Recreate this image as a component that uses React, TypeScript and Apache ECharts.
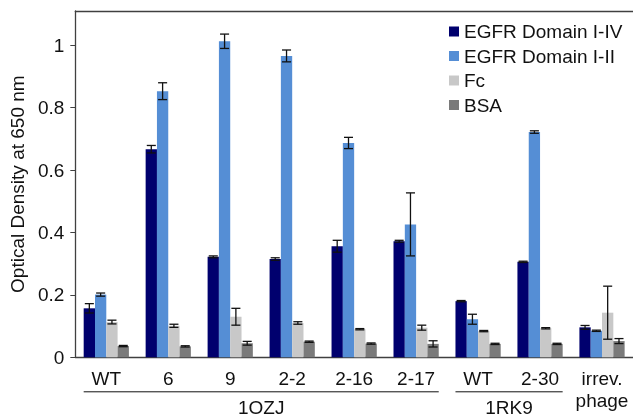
import React, { useEffect, useRef } from 'react';
import * as echarts from 'echarts';

const categories = ['WT', '6', '9', '2-2', '2-16', '2-17', 'WT', '2-30', 'irrev.\nphage'];
const seriesNames = ['EGFR Domain I-IV', 'EGFR Domain I-II', 'Fc', 'BSA'];
const seriesColors = ['#00006e', '#558ed5', '#c8c8c8', '#7a7a7a'];

const domainIV = [0.157, 0.667, 0.322, 0.315, 0.356, 0.372, 0.18, 0.306, 0.096];
const domainIVErr = [0.015, 0.012, 0.003, 0.004, 0.019, 0.003, 0.002, 0.002, 0.006];
const domainII = [0.201, 0.853, 1.013, 0.966, 0.687, 0.426, 0.122, 0.722, 0.085];
const domainIIErr = [0.005, 0.027, 0.023, 0.019, 0.018, 0.101, 0.016, 0.004, 0.002];
const fc = [0.113, 0.101, 0.13, 0.11, 0.09, 0.095, 0.084, 0.093, 0.143];
const fcErr = [0.006, 0.005, 0.027, 0.004, 0.002, 0.008, 0.002, 0.002, 0.085];
const bsa = [0.036, 0.035, 0.045, 0.05, 0.044, 0.043, 0.043, 0.043, 0.052];
const bsaErr = [0.002, 0.002, 0.006, 0.002, 0.002, 0.01, 0.002, 0.002, 0.008];

const yTicks = [0, 0.2, 0.4, 0.6, 0.8, 1];
const groupLabels = ['1OZJ', '1RK9'];
const groupFrom = [0, 6];
const groupTo = [5, 7];

const FONT = '"Liberation Sans", Arial, sans-serif';
const GAP = 0.27;
const AXIS_COLOR = '#404040';

export default function App() {
  const ref = useRef<HTMLDivElement>(null);
  useEffect(() => {
    if (!ref.current) return;
    const chart = echarts.init(ref.current, null, { renderer: 'svg' });
    const values = [domainIV, domainII, fc, bsa];
    const errs = [domainIVErr, domainIIErr, fcErr, bsaErr];

    const barSeries = seriesNames.map((name, i) => ({
      name,
      type: 'bar',
      data: values[i],
      barGap: '0%',
      barCategoryGap: (GAP * 100) + '%',
      itemStyle: { color: seriesColors[i] },
      z: 2,
    }));

    const errSeries = seriesNames.map((name, i) => ({
      name: name + ' err',
      type: 'custom',
      z: 5,
      data: values[i].map((v, k) => [k, v, errs[i][k]]),
      renderItem: (params: any, api: any) => {
        const x = api.value(0);
        const v = api.value(1);
        const e = api.value(2);
        const band = api.size([1, 0])[0];
        const barW = (band * (1 - GAP)) / 4;
        const cx = api.coord([x, v])[0] + (i - 1.5) * barW;
        const top = api.coord([x, v + e])[1];
        const bot = api.coord([x, v - e])[1];
        const hw = barW * 0.4;
        const st = { stroke: '#111', lineWidth: 1.3 };
        return {
          type: 'group',
          children: [
            { type: 'line', shape: { x1: cx, y1: top, x2: cx, y2: bot }, style: st },
            { type: 'line', shape: { x1: cx - hw, y1: top, x2: cx + hw, y2: top }, style: st },
            { type: 'line', shape: { x1: cx - hw, y1: bot, x2: cx + hw, y2: bot }, style: st },
          ],
        };
      },
    }));

    const groupSeries = {
      name: 'groups',
      type: 'custom',
      clip: false,
      z: 5,
      data: groupLabels.map((g, k) => [groupFrom[k], groupTo[k], k]),
      renderItem: (params: any, api: any) => {
        const a = api.value(0);
        const b = api.value(1);
        const k = api.value(2);
        const band = api.size([1, 0])[0];
        const half = (band * (1 - GAP)) / 2;
        const x1 = api.coord([a, 0])[0] - half;
        const x2 = api.coord([b, 0])[0] + half;
        const y0 = api.coord([a, 0])[1];
        const ly = y0 + 34.5;
        return {
          type: 'group',
          children: [
            { type: 'line', shape: { x1, y1: ly, x2, y2: ly }, style: { stroke: '#111', lineWidth: 1 } },
            {
              type: 'text',
              style: {
                text: groupLabels[k],
                x: (x1 + x2) / 2,
                y: ly + 16,
                align: 'center',
                verticalAlign: 'middle',
                fontSize: 19,
                fontFamily: FONT,
                fill: '#111',
              },
            },
          ],
        };
      },
    };

    chart.setOption({
      animation: false,
      grid: { left: 73.5, right: -2.5, top: 11, bottom: 61.7 },
      legend: {
        data: seriesNames,
        orient: 'vertical',
        left: 444,
        top: 17,
        icon: 'rect',
        itemWidth: 10,
        itemHeight: 10,
        itemGap: 5.5,
        textStyle: { fontSize: 19, fontFamily: FONT, color: '#111' },
      },
      xAxis: [
        {
          type: 'category',
          data: categories,
          position: 'bottom',
          axisLine: { lineStyle: { color: AXIS_COLOR, width: 1.3 } },
          axisTick: { show: false },
          axisLabel: { fontSize: 19, fontFamily: FONT, color: '#111', margin: 10, lineHeight: 22, interval: 0 },
        },
        {
          type: 'category',
          data: categories,
          position: 'top',
          axisLine: { lineStyle: { color: AXIS_COLOR, width: 1.3 } },
          axisTick: { show: false },
          axisLabel: { show: false },
        },
      ],
      yAxis: {
        type: 'value',
        min: 0,
        max: 1.11,
        interval: 0.2,
        name: 'Optical Density at 650 nm',
        nameLocation: 'middle',
        nameGap: 44,
        nameTextStyle: { fontSize: 19, fontFamily: FONT, color: '#111' },
        axisLine: { show: true, lineStyle: { color: AXIS_COLOR, width: 1.3 } },
        axisTick: { show: true, length: 5, customValues: yTicks, lineStyle: { color: AXIS_COLOR } },
        axisLabel: {
          fontSize: 19,
          fontFamily: FONT,
          color: '#111',
          margin: 11,
          customValues: yTicks,
          formatter: (v: number) => String(Math.round(v * 10) / 10),
        },
        splitLine: { show: false },
      },
      series: [...barSeries, ...errSeries, groupSeries],
    });
    return () => chart.dispose();
  }, []);
  return <div ref={ref} style={{ position: 'fixed', left: 0, top: 0, width: 633, height: 419 }} />;
}
